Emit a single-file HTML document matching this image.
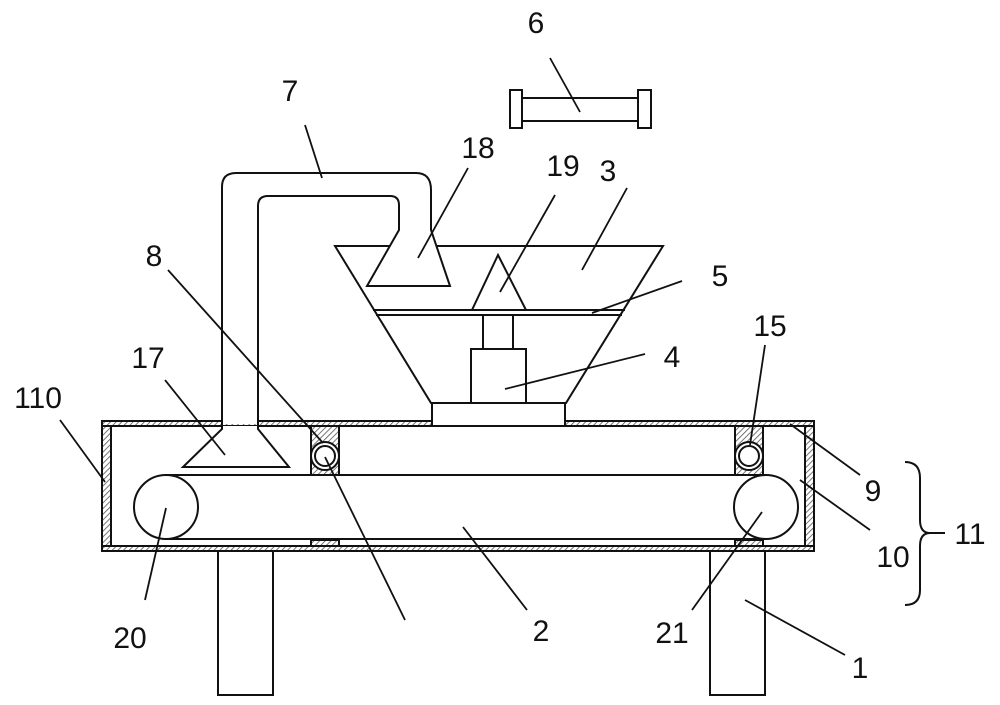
<!DOCTYPE html>
<html><head><meta charset="utf-8"><style>html,body{margin:0;padding:0;background:#fff}svg{display:block}text{font-family:"Liberation Sans",sans-serif;font-size:30px;fill:#111}</style></head>
<body>
<svg width="1000" height="705" viewBox="0 0 1000 705" xmlns="http://www.w3.org/2000/svg">
<defs>
<pattern id="h" width="4" height="4" patternUnits="userSpaceOnUse" patternTransform="rotate(45)">
<rect width="4" height="4" fill="#fff"/><line x1="0" y1="0" x2="0" y2="4" stroke="#555" stroke-width="1.6"/></pattern>
</defs>
<g stroke="#111" stroke-width="2" fill="none">
<!-- frame walls -->
<rect x="102" y="421" width="712" height="5" fill="url(#h)"/>
<rect x="102" y="546" width="712" height="5" fill="url(#h)"/>
<rect x="102" y="426" width="9" height="120" fill="url(#h)"/>
<rect x="805" y="426" width="9" height="120" fill="url(#h)"/>
<!-- bearing blocks -->
<rect x="311" y="426" width="28" height="49" fill="url(#h)"/>
<rect x="311" y="540" width="28" height="6" fill="url(#h)"/>
<rect x="735" y="426" width="28" height="49" fill="url(#h)"/>
<rect x="735" y="540" width="28" height="6" fill="url(#h)"/>
<circle cx="325" cy="456" r="14" fill="#fff"/><circle cx="325" cy="456" r="10"/>
<circle cx="749" cy="456" r="14" fill="#fff"/><circle cx="749" cy="456" r="10"/>
<!-- belt -->
<line x1="166" y1="475" x2="766" y2="475"/>
<line x1="166" y1="539" x2="766" y2="539"/>
<circle cx="166" cy="507" r="32" fill="#fff"/>
<circle cx="766" cy="507" r="32" fill="#fff"/>
<!-- legs -->
<rect x="218" y="551" width="55" height="144"/>
<rect x="710" y="551" width="55" height="144"/>
<!-- hopper -->
<polygon points="335,246 663,246 566,403 431,403" fill="#fff"/>
<rect x="432" y="403" width="133" height="23" fill="#fff"/>
<line x1="373" y1="310" x2="625" y2="310"/>
<line x1="376" y1="315" x2="622" y2="315"/>
<rect x="483" y="315" width="30" height="34"/>
<rect x="471" y="349" width="55" height="54" fill="#fff"/>
<polygon points="498,255 526,310 472,310" fill="#fff"/>
<!-- pipe 7 -->
<path d="M222,424 V187 Q222,173 236,173 H416 Q431,173 431,190 V230 L450,286 H367 L399,230 V205 Q399,196 390,196 H268 Q258,196 258,206 V424" fill="#fff"/>
<path d="M222,426 V429 L183,467 H289 L258,429 V426" fill="#fff"/>
<line x1="222" y1="421" x2="222" y2="428"/><line x1="258" y1="421" x2="258" y2="428"/>
<!-- actuator 6 -->
<rect x="510" y="90" width="12" height="38"/>
<rect x="638" y="90" width="13" height="38"/>
<rect x="522" y="98" width="116" height="23"/>
<!-- bracket 11 -->
<path d="M905,462 Q920,462 920,478 V520 Q920,533 930,533 Q920,533 920,546 V590 Q920,605 905,605"/>
<line x1="930" y1="533" x2="945" y2="533"/>
</g>
<g stroke="#111" stroke-width="1.8">
<line x1="550" y1="58" x2="580" y2="112"/>
<line x1="305" y1="125" x2="322" y2="178"/>
<line x1="468" y1="168" x2="418" y2="258"/>
<line x1="555" y1="195" x2="500" y2="292"/>
<line x1="627" y1="188" x2="582" y2="270"/>
<line x1="682" y1="281" x2="592" y2="313"/>
<line x1="645" y1="354" x2="505" y2="389"/>
<line x1="765" y1="345" x2="750" y2="445"/>
<line x1="168" y1="270" x2="323" y2="443"/>
<line x1="325" y1="457" x2="405" y2="620"/>
<line x1="165" y1="380" x2="225" y2="455"/>
<line x1="60" y1="420" x2="105" y2="482"/>
<line x1="145" y1="600" x2="166" y2="508"/>
<line x1="527" y1="610" x2="463" y2="527"/>
<line x1="692" y1="610" x2="762" y2="512"/>
<line x1="845" y1="655" x2="745" y2="600"/>
<line x1="860" y1="475" x2="790" y2="424"/>
<line x1="870" y1="530" x2="800" y2="480"/>
</g>
<g text-anchor="middle">
<text x="536" y="33">6</text>
<text x="290" y="101">7</text>
<text x="478" y="158">18</text>
<text x="563" y="176">19</text>
<text x="608" y="181">3</text>
<text x="720" y="286">5</text>
<text x="672" y="367">4</text>
<text x="770" y="336">15</text>
<text x="154" y="266">8</text>
<text x="148" y="368">17</text>
<text x="38" y="408">110</text>
<text x="130" y="648">20</text>
<text x="541" y="641">2</text>
<text x="672" y="643">21</text>
<text x="860" y="678">1</text>
<text x="873" y="501">9</text>
<text x="893" y="567">10</text>
<text x="970" y="544">11</text>
</g>
</svg>
</body></html>
